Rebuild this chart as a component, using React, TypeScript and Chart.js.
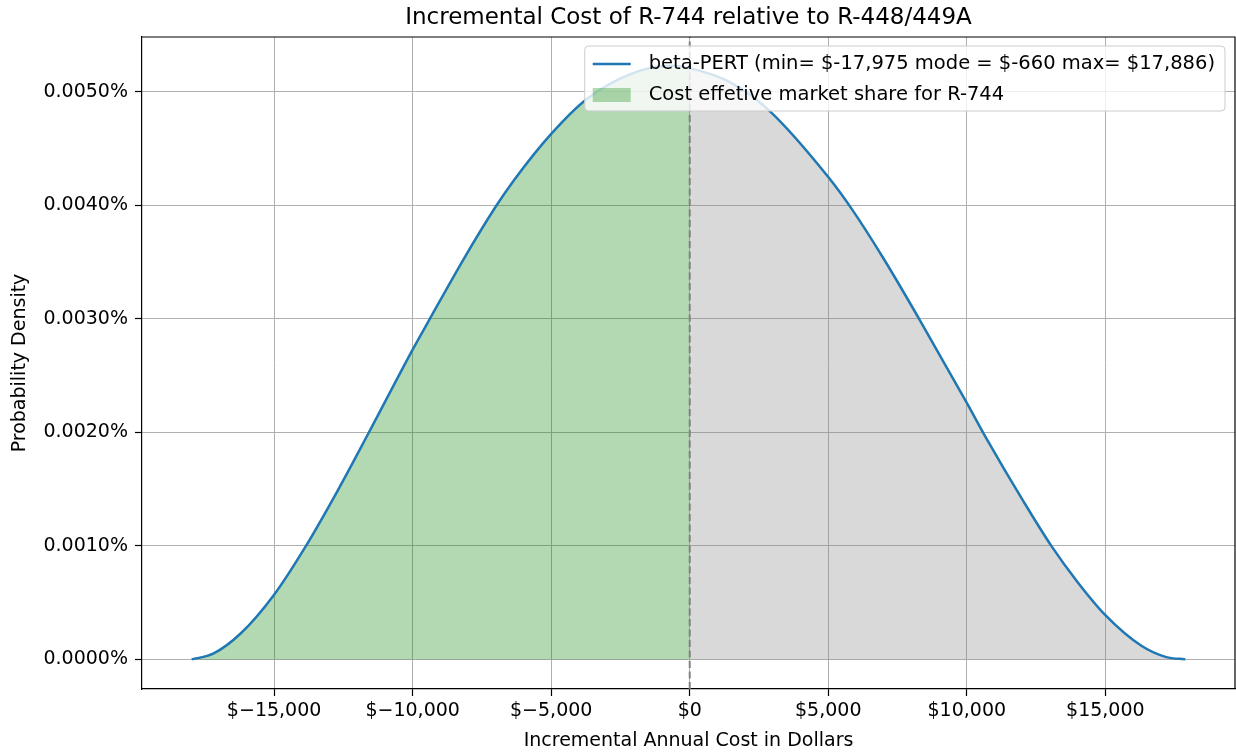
import React, { useEffect, useRef } from "react";
import { Chart, registerables } from "chart.js";

Chart.register(...registerables);

// ---- data ----
const costX = [
  -17975, -17200, -16200, -15000, -13900, -12700, -11600, -10000, -9450, -8200,
  -7000, -6350, -5000, -3700, -2000, -660, 0, 1500, 2850, 5000, 5900, 7000, 8350,
  10000, 10700, 12050, 13050, 14000, 15000, 16300, 17200, 17886,
];
// probability density, expressed in percent units (0.0052 => 0.0052%)
const density = [
  0, 0.00005, 0.00023, 0.00057, 0.00098, 0.00149, 0.00199, 0.00273, 0.00297, 0.00351,
  0.00399, 0.00422, 0.00463, 0.00494, 0.00517, 0.00523, 0.00521, 0.00508, 0.00484,
  0.00425, 0.00395, 0.00353, 0.00297, 0.00226, 0.00195, 0.00139, 0.001, 0.00068, 0.00039,
  0.00012, 0.00002, 0,
];
const splitCost = 0;
const xTicks = [-15000, -10000, -5000, 0, 5000, 10000, 15000];
const yTicks = [0, 0.001, 0.002, 0.003, 0.004, 0.005];
const xRange = [-19768, 19679];
const yRange = [-0.000261, 0.005484];

const chartTitle = "Incremental Cost of R-744 relative to R-448/449A";
const xTitle = "Incremental Annual Cost in Dollars";
const yTitle = "Probability Density";
const lineLabel = "beta-PERT (min= $-17,975 mode = $-660 max= $17,886)";
const fillLabel = "Cost effetive market share for R-744";

const FONT = "'DejaVu Sans', 'Liberation Sans', sans-serif";
const BLUE = "#1f77b4";
const GREEN_FILL = "rgba(0,128,0,0.3)";
const GRAY_FILL = "rgba(128,128,128,0.3)";

function fmtDollar(v: number): string {
  const abs = Math.abs(v).toLocaleString("en-US");
  return "$" + (v < 0 ? "\u2212" : "") + abs;
}

const frameAndLegend = {
  id: "frameAndLegend",
  afterDraw(chart: any) {
    const { ctx, chartArea } = chart;
    ctx.save();
    // top & right spines
    ctx.strokeStyle = "#000";
    ctx.lineWidth = 1.2;
    ctx.beginPath();
    ctx.moveTo(chartArea.left, chartArea.top);
    ctx.lineTo(chartArea.right, chartArea.top);
    ctx.lineTo(chartArea.right, chartArea.bottom);
    ctx.stroke();

    // title, centred over the axes
    ctx.fillStyle = "#000";
    ctx.font = `23px ${FONT}`;
    ctx.textAlign = "center";
    ctx.textBaseline = "alphabetic";
    ctx.fillText(chartTitle, (chartArea.left + chartArea.right) / 2, 24);

    // legend
    ctx.font = `19.5px ${FONT}`;
    const tw = Math.max(ctx.measureText(lineLabel).width, ctx.measureText(fillLabel).width);
    const right = chartArea.right - 10;
    const left = right - (tw + 64 + 10);
    const top = chartArea.top + 9;
    const h = 65;
    ctx.beginPath();
    ctx.roundRect(left, top, right - left, h, 4);
    ctx.fillStyle = "rgba(255,255,255,0.8)";
    ctx.fill();
    ctx.strokeStyle = "#cccccc";
    ctx.lineWidth = 1;
    ctx.stroke();

    const row1 = top + 18;
    const row2 = top + 49;
    ctx.strokeStyle = BLUE;
    ctx.lineWidth = 2.4;
    ctx.beginPath();
    ctx.moveTo(left + 8, row1);
    ctx.lineTo(left + 46, row1);
    ctx.stroke();
    ctx.fillStyle = GREEN_FILL;
    ctx.fillRect(left + 8, row2 - 7, 38, 14);

    ctx.fillStyle = "#000";
    ctx.textBaseline = "middle";
    ctx.textAlign = "left";
    ctx.fillText(lineLabel, left + 64, row1);
    ctx.fillText(fillLabel, left + 64, row2);
    ctx.restore();
  },
};

export default function App() {
  const ref = useRef<HTMLCanvasElement | null>(null);

  useEffect(() => {
    document.body.style.margin = "0";
    const pts = costX.map((x, i) => ({ x, y: density[i] }));
    const greenPts = pts.filter((p) => p.x <= splitCost);
    const grayPts = pts.filter((p) => p.x >= splitCost);

    const chart = new Chart(ref.current as HTMLCanvasElement, {
      type: "line",
      data: {
        datasets: [
          {
            label: lineLabel,
            data: pts,
            borderColor: BLUE,
            borderWidth: 2.5,
            pointRadius: 0,
            fill: false,
            cubicInterpolationMode: "monotone",
          },
          {
            label: "split",
            data: [
              { x: splitCost, y: yRange[0] },
              { x: splitCost, y: yRange[1] },
            ],
            borderColor: "rgba(128,128,128,0.95)",
            borderWidth: 2,
            borderDash: [7, 3.5],
            pointRadius: 0,
            tension: 0,
            fill: false,
          },
          {
            label: fillLabel,
            data: greenPts,
            borderWidth: 0,
            borderColor: "rgba(0,0,0,0)",
            backgroundColor: GREEN_FILL,
            pointRadius: 0,
            fill: "origin",
            cubicInterpolationMode: "monotone",
          },
          {
            label: "rest",
            data: grayPts,
            borderWidth: 0,
            borderColor: "rgba(0,0,0,0)",
            backgroundColor: GRAY_FILL,
            pointRadius: 0,
            fill: "origin",
            cubicInterpolationMode: "monotone",
          },
        ],
      },
      options: {
        animation: false,
        responsive: true,
        maintainAspectRatio: false,
        layout: { padding: { left: 0, right: 1, top: 37, bottom: 0 } },
        plugins: {
          legend: { display: false },
          tooltip: { enabled: false },
          title: { display: false },
        },
        scales: {
          x: {
            type: "linear",
            min: xRange[0],
            max: xRange[1],
            afterBuildTicks: (s: any) => {
              s.ticks = xTicks.map((v) => ({ value: v }));
            },
            afterFit: (s: any) => {
              s.height = 64;
            },
            ticks: {
              color: "#000",
              font: { family: FONT, size: 19 },
              padding: 4,
              maxRotation: 0,
              callback: (v: any) => fmtDollar(Number(v)),
            },
            grid: {
              color: "#b0b0b0",
              lineWidth: 1,
              tickColor: "#000",
              tickLength: 7,
              tickWidth: 1.2,
            },
            border: { display: true, color: "#000", width: 1.2 },
            title: {
              display: true,
              text: xTitle,
              color: "#000",
              font: { family: FONT, size: 19 },
              padding: { top: 0, bottom: 1 },
            },
          },
          y: {
            type: "linear",
            min: yRange[0],
            max: yRange[1],
            afterBuildTicks: (s: any) => {
              s.ticks = yTicks.map((v) => ({ value: v }));
            },
            afterFit: (s: any) => {
              s.width = 142;
            },
            ticks: {
              color: "#000",
              font: { family: FONT, size: 19 },
              padding: 7,
              callback: (v: any) => Number(v).toFixed(4) + "%",
            },
            grid: {
              color: "#b0b0b0",
              lineWidth: 1,
              tickColor: "#000",
              tickLength: 7,
              tickWidth: 1.2,
            },
            border: { display: true, color: "#000", width: 1.2 },
            title: {
              display: true,
              text: yTitle,
              color: "#000",
              font: { family: FONT, size: 19 },
              padding: { top: 9, bottom: 0 },
            },
          },
        },
      },
      plugins: [frameAndLegend],
    } as any);

    return () => chart.destroy();
  }, []);

  return (
    <div style={{ position: "fixed", left: 0, top: 0, width: 1236, height: 753 }}>
      <canvas ref={ref} />
    </div>
  );
}
